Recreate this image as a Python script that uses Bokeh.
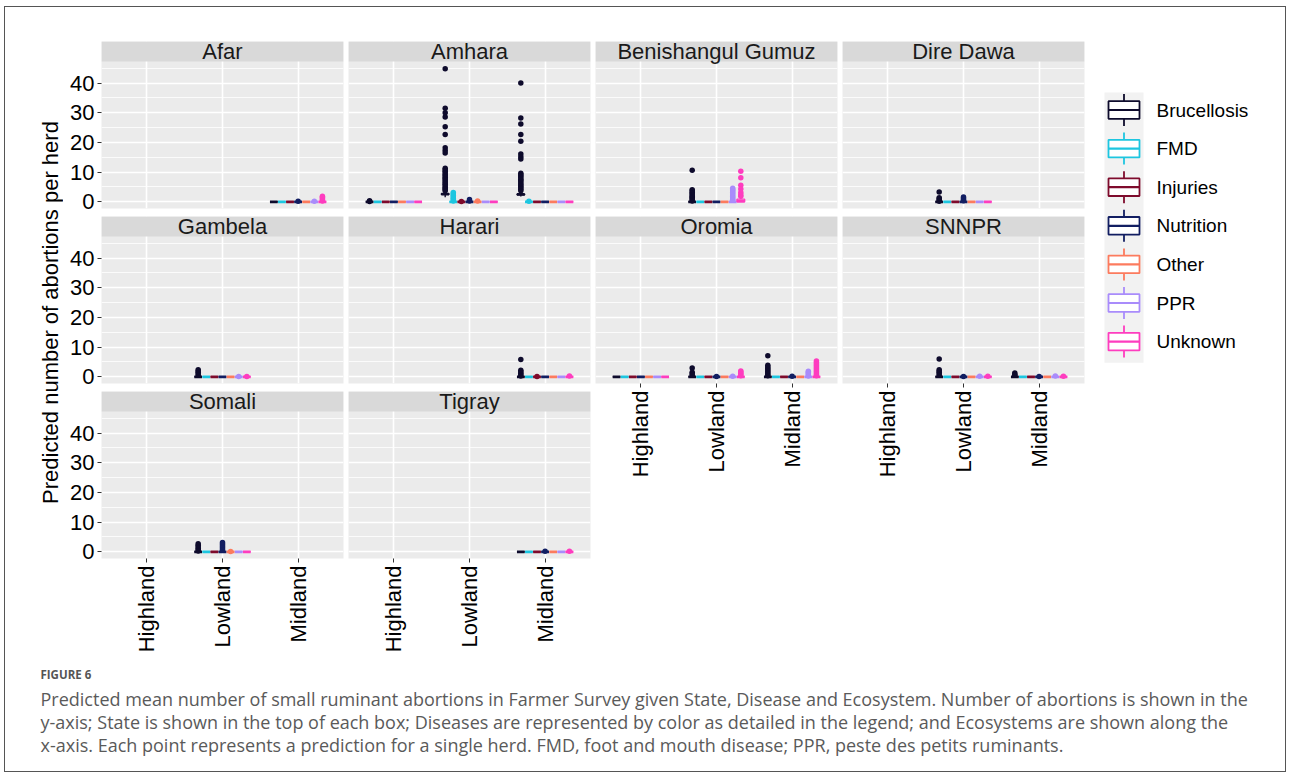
import pandas as pd
from math import pi
from bokeh.plotting import figure
from bokeh.layouts import row, column
from bokeh.models import FactorRange, Range1d, FixedTicker, BoxAnnotation, ColumnDataSource, Spacer, Label
from bokeh.transform import dodge
from bokeh.core.properties import value
from bokeh.embed import file_html
from bokeh.resources import INLINE

# ---------------- data ----------------
diseases = ["Brucellosis", "FMD", "Injuries", "Nutrition", "Other", "PPR", "Unknown"]
disease_colors = ["#0e0b2c", "#1dc6e0", "#7e0b2c", "#121e62", "#fc7b5e", "#a98cfb", "#fe3dbf"]
ecosystems = ["Highland", "Lowland", "Midland"]
panel_states = ["Afar", "Amhara", "Benishangul Gumuz", "Dire Dawa", "Gambela",
                "Harari", "Oromia", "SNNPR", "Somali", "Tigray"]

# state / ecosystem combinations that have data (every disease present)
combo_state = ["Afar", "Amhara", "Amhara", "Amhara", "Benishangul Gumuz", "Dire Dawa",
               "Gambela", "Harari", "Oromia", "Oromia", "Oromia", "SNNPR", "SNNPR",
               "Somali", "Tigray"]
combo_eco = ["Midland", "Highland", "Lowland", "Midland", "Lowland", "Lowland",
             "Lowland", "Midland", "Highland", "Lowland", "Midland", "Lowland", "Midland",
             "Lowland", "Midland"]

# boxes whose summary statistics are not all zero
box_state = ["Amhara", "Amhara", "Benishangul Gumuz"]
box_eco = ["Lowland", "Midland", "Lowland"]
box_disease = ["Brucellosis", "Brucellosis", "Unknown"]
box_lower = [1.5, 1.8, 0.0]
box_q1 = [2.5, 2.4, 0.0]
box_median = [2.6, 2.5, 0.2]
box_q3 = [2.7, 2.6, 0.9]
box_upper = [3.3, 3.2, 1.3]

# outlying predictions (one point per herd)
out_state = ["Afar", "Afar", "Afar", "Amhara", "Amhara", "Amhara", "Amhara", "Amhara",
             "Amhara", "Amhara", "Amhara", "Benishangul Gumuz", "Benishangul Gumuz",
             "Benishangul Gumuz", "Dire Dawa", "Dire Dawa", "Gambela", "Gambela", "Gambela",
             "Harari", "Harari", "Harari", "Oromia", "Oromia", "Oromia", "Oromia", "Oromia",
             "Oromia", "Oromia", "Oromia", "SNNPR", "SNNPR", "SNNPR", "SNNPR", "SNNPR",
             "SNNPR", "SNNPR", "SNNPR", "Somali", "Somali", "Somali", "Tigray", "Tigray"]
out_eco = ["Midland", "Midland", "Midland", "Highland", "Lowland", "Lowland", "Lowland",
           "Lowland", "Lowland", "Midland", "Midland", "Lowland", "Lowland", "Lowland",
           "Lowland", "Lowland", "Lowland", "Lowland", "Lowland", "Midland", "Midland",
           "Midland", "Lowland", "Lowland", "Lowland", "Lowland", "Midland", "Midland",
           "Midland", "Midland", "Lowland", "Lowland", "Lowland", "Lowland", "Midland",
           "Midland", "Midland", "Midland", "Lowland", "Lowland", "Lowland", "Midland",
           "Midland"]
out_disease = ["Nutrition", "PPR", "Unknown", "Brucellosis", "Brucellosis", "FMD", "Injuries",
               "Nutrition", "Other", "Brucellosis", "FMD", "Brucellosis", "PPR", "Unknown",
               "Brucellosis", "Nutrition", "Brucellosis", "PPR", "Unknown", "Brucellosis",
               "Injuries", "Unknown", "Brucellosis", "Nutrition", "PPR", "Unknown",
               "Brucellosis", "Nutrition", "PPR", "Unknown", "Brucellosis", "Nutrition", "PPR",
               "Unknown", "Brucellosis", "Nutrition", "PPR", "Unknown", "Brucellosis",
               "Nutrition", "Other", "Nutrition", "Unknown"]
out_values = [
    [0.2], [0.2], [0.3, 0.7, 1.1, 1.5, 1.9],
    [0.1, 0.4],
    [44.8, 31.5, 30.0, 28.6, 25.3, 22.7, 18.2, 17.3, 16.4, 11.3, 10.8, 10.3, 9.8, 9.2, 8.8,
     8.3, 7.8, 7.4, 6.8, 6.3, 5.9, 5.4, 4.9, 4.5, 4.1, 3.7],
    [0.3, 0.8, 1.2, 1.7, 2.2, 2.7, 3.1],
    [0.1], [0.3, 0.8], [0.3],
    [40.0, 28.2, 26.2, 22.7, 20.4, 16.1, 15.2, 14.4, 9.6, 9.1, 8.7, 8.2, 7.6, 7.2, 6.7, 6.1,
     5.7, 5.2, 4.7, 4.2, 3.7],
    [0.2],
    [10.6, 4.1, 3.7, 3.2, 2.8, 2.3, 1.9, 1.5, 1.1, 0.7, 0.3],
    [4.6, 4.1, 3.7, 3.2, 2.7, 2.3, 1.8, 1.4, 0.9, 0.5],
    [10.3, 8.1, 5.6, 4.3, 3.1, 2.4, 1.9],
    [3.3, 1.4, 1.0, 0.6, 0.2], [1.6, 1.2, 0.8, 0.4],
    [2.4, 2.0, 1.5, 1.0, 0.5], [0.1], [0.1],
    [5.8, 2.2, 1.7, 1.2, 0.7, 0.3], [0.1], [0.3],
    [3.0, 1.5, 1.0, 0.5], [0.1], [0.2], [2.0, 1.6, 1.2, 0.8, 0.4],
    [7.1, 3.9, 3.3, 2.8, 2.3, 1.8, 1.3, 0.8, 0.4], [0.2], [1.9, 1.5, 1.1, 0.7, 0.3],
    [5.3, 4.8, 4.3, 3.8, 3.3, 2.8, 2.3, 1.8, 1.3, 0.8, 0.4],
    [6.0, 2.4, 2.0, 1.5, 1.0, 0.5], [0.1], [0.2], [0.2],
    [1.3, 0.9, 0.5], [0.1], [0.3], [0.2],
    [2.7, 2.2, 1.7, 1.2, 0.7, 0.3], [3.1, 2.6, 2.1, 1.6, 1.1, 0.6], [0.1],
    [0.2], [0.2],
]

y_ticks = [0, 10, 20, 30, 40]
y_minor = [5, 15, 25, 35, 45]
legend_labels = diseases
y_title = "Predicted number of abortions per herd"
caption_head = "FIGURE 6"
caption_lines = [
    "Predicted mean number of small ruminant abortions in Farmer Survey given State, Disease and Ecosystem. Number of abortions is shown in the",
    "y-axis; State is shown in the top of each box; Diseases are represented by color as detailed in the legend; and Ecosystems are shown along the",
    "x-axis. Each point represents a prediction for a single herd. FMD, foot and mouth disease; PPR, peste des petits ruminants.",
]

# ---------------- tables ----------------
rows_ = []
for s, e in zip(combo_state, combo_eco):
    for d in diseases:
        rows_.append(dict(state=s, eco=e, disease=d, lower=0.0, q1=0.0, median=0.0, q3=0.0, upper=0.0))
boxes = pd.DataFrame(rows_)
for s, e, d, lo, a, m, b, hi in zip(box_state, box_eco, box_disease, box_lower, box_q1,
                                    box_median, box_q3, box_upper):
    msk = (boxes.state == s) & (boxes.eco == e) & (boxes.disease == d)
    boxes.loc[msk, ["lower", "q1", "median", "q3", "upper"]] = [lo, a, m, b, hi]

orows = []
for s, e, d, vals in zip(out_state, out_eco, out_disease, out_values):
    for v in vals:
        orows.append(dict(state=s, eco=e, disease=d, value=v))
outs = pd.DataFrame(orows)

# ---------------- styling ----------------
FONT = "Liberation Sans"
PANEL_BG = "#EBEBEB"
STRIP_BG = "#D9D9D9"
Y_LO, Y_HI = -2.25, 47.25
FRAME_W, FRAME_H, STRIP_H = 242, 167, 20
Y_TOP = Y_HI + STRIP_H * (Y_HI - Y_LO) / (FRAME_H - STRIP_H)
SLOT = 0.75 / 7
BOX_W = SLOT * 0.95
TOP_MB = 34
GAP_BOTTOM, GAP_TOP = 6, 2
GAP = GAP_BOTTOM + GAP_TOP
BOT_MB = 103

grid_pos = {s: divmod(i, 4) for i, s in enumerate(panel_states)}
bottom_panels = {"Somali", "Tigray", "Oromia", "SNNPR"}


def make_panel(state):
    r, c = grid_pos[state]
    is_left = c == 0
    is_bottom = state in bottom_panels
    mbl = 38 if is_left else 0
    mbr = 5
    mbt = TOP_MB if r == 0 else GAP_TOP
    mbb = BOT_MB if is_bottom else GAP_BOTTOM
    p = figure(width=mbl + FRAME_W + mbr, height=mbt + FRAME_H + mbb,
               x_range=FactorRange(factors=ecosystems, range_padding=0.1,
                                   range_padding_units="absolute"),
               y_range=Range1d(Y_LO, Y_TOP),
               output_backend="svg", toolbar_location=None,
               min_border_left=mbl, min_border_right=mbr,
               min_border_top=mbt, min_border_bottom=mbb)
    p.background_fill_color = PANEL_BG
    p.border_fill_color = "white"
    p.outline_line_color = None

    ticker = FixedTicker(ticks=y_ticks, minor_ticks=y_minor)
    p.yaxis.ticker = ticker
    p.ygrid.ticker = ticker
    p.ygrid.grid_line_color = "white"
    p.ygrid.grid_line_width = 1.6
    p.ygrid.minor_grid_line_color = "white"
    p.ygrid.minor_grid_line_width = 0.8
    p.xgrid.grid_line_color = "white"
    p.xgrid.grid_line_width = 1.6

    for ax in (p.xaxis[0], p.yaxis[0]):
        ax.axis_line_color = None
        ax.major_tick_line_color = "#333333"
        ax.major_tick_out = 4
        ax.major_tick_in = 0
        ax.minor_tick_line_color = None
        ax.major_label_text_font = FONT
        ax.major_label_text_font_size = "22px"
        ax.major_label_text_color = "#000000"
        ax.major_label_standoff = 3
    p.xaxis.major_label_orientation = pi / 2
    p.yaxis.visible = is_left
    p.xaxis.visible = is_bottom

    bsub = boxes[boxes.state == state]
    osub = outs[outs.state == state]
    xr = p.x_range
    for k, (d, col) in enumerate(zip(diseases, disease_colors)):
        off = (k - 3) * SLOT
        b = bsub[bsub.disease == d]
        if len(b):
            src = ColumnDataSource(b)
            p.segment(x0=dodge("eco", off, range=xr), x1=dodge("eco", off, range=xr),
                      y0="q3", y1="upper", line_color=col, line_width=1.4, source=src)
            p.segment(x0=dodge("eco", off, range=xr), x1=dodge("eco", off, range=xr),
                      y0="lower", y1="q1", line_color=col, line_width=1.4, source=src)
            p.vbar(x=dodge("eco", off, range=xr), width=BOX_W, bottom="q1", top="q3",
                   fill_color="white", line_color=col, line_width=1.4, source=src)
            p.segment(x0=dodge("eco", off - BOX_W / 2, range=xr),
                      x1=dodge("eco", off + BOX_W / 2, range=xr),
                      y0="median", y1="median", line_color=col, line_width=2.8,
                      line_cap="butt", source=src)
        o = osub[osub.disease == d]
        if len(o):
            p.scatter(x=dodge("eco", off, range=xr), y="value", size=5.5,
                      fill_color=col, line_color=None, source=ColumnDataSource(o))

    p.add_layout(BoxAnnotation(bottom=Y_HI, fill_color=STRIP_BG, fill_alpha=1.0,
                               line_color=None, level="annotation"))
    p.add_layout(Label(x=1.5, y=(Y_HI + Y_TOP) / 2, text=state, text_font=FONT,
                       text_font_size="22px", text_color="#1a1a1a", text_align="center",
                       text_baseline="middle", level="overlay"))
    return p


panels = {s: make_panel(s) for s in panel_states}

TOP_H = TOP_MB + FRAME_H + GAP + FRAME_H + GAP + FRAME_H + BOT_MB
YT_W = 58
COL1_W = 38 + FRAME_W + 5
COL_W = FRAME_W + 5
LW = 196
CW = YT_W + COL1_W + 3 * COL_W + LW
CH = 764 - TOP_H


def blank(w, h, xr, yr):
    f = figure(width=w, height=h, x_range=xr, y_range=yr, output_backend="svg",
               toolbar_location=None, x_axis_location=None, y_axis_location=None,
               min_border=0)
    f.grid.visible = False
    f.outline_line_color = None
    f.background_fill_color = "white"
    f.border_fill_color = "white"
    return f


# y axis title
ytf = blank(YT_W, TOP_H, Range1d(0, YT_W), Range1d(TOP_H, 0))
ytf.text(x=[45], y=[305], text=[y_title], angle=pi / 2, text_font=value(FONT),
         text_font_size="22px", text_color="#000000", text_align="center",
         text_baseline="middle")

# legend
lg = blank(LW, TOP_H, Range1d(0, LW), Range1d(TOP_H, 0))
KEY_TOP, KEY_H = 85, 38.6
lg.quad(left=[15], right=[54], top=[KEY_TOP], bottom=[KEY_TOP + 7 * KEY_H],
        fill_color="#F2F2F2", line_color=None)
for i, (lab, col) in enumerate(zip(legend_labels, disease_colors)):
    t = KEY_TOP + i * KEY_H
    lg.segment(x0=[34.5], x1=[34.5], y0=[t + 1.5], y1=[t + 33.5], line_color=col, line_width=1.8)
    lg.quad(left=[19], right=[50], top=[t + 8.7], bottom=[t + 26.3], fill_color="white",
            line_color=col, line_width=1.8)
    lg.segment(x0=[19], x1=[50], y0=[t + 17.5], y1=[t + 17.5], line_color=col, line_width=2.2)
    lg.text(x=[67], y=[t + 17.5], text=[lab], text_font=value(FONT), text_font_size="19px",
            text_color="#000000", text_align="left", text_baseline="middle")

# caption
cap = blank(CW, CH, Range1d(0, CW), Range1d(CH, 0))
cap.text(x=[35], y=[13], text=[caption_head], text_font=value("Open Sans"),
         text_font_size="11.5px", text_font_style="bold", text_color="#555555",
         text_align="left", text_baseline="middle")
cap.text(x=[35, 35, 35], y=[37, 60, 83], text=caption_lines, text_font=value("Open Sans"),
         text_font_size="18px", text_color="#5a5a5a", text_align="left",
         text_baseline="middle")

col1 = column(panels["Afar"], panels["Gambela"], panels["Somali"])
col2 = column(panels["Amhara"], panels["Harari"], panels["Tigray"])
col3 = column(panels["Benishangul Gumuz"], panels["Oromia"], Spacer(width=COL_W, height=GAP_TOP + FRAME_H + GAP_BOTTOM - GAP_BOTTOM))
col4 = column(panels["Dire Dawa"], panels["SNNPR"], Spacer(width=COL_W, height=GAP_TOP + FRAME_H + GAP_BOTTOM - GAP_BOTTOM))
top = row(ytf, col1, col2, col3, col4, lg)
layout = column(top, cap, styles={"border": "1px solid #555555", "margin": "6px 0px 0px 4px"})

open("out.html", "w").write(file_html(layout, INLINE, title="Figure 6"))
